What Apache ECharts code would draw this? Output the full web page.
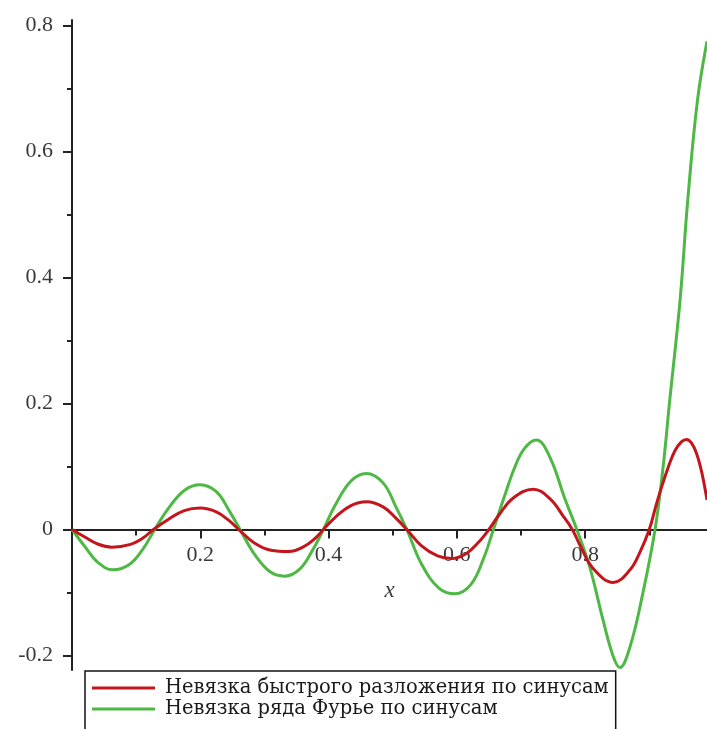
<!DOCTYPE html>
<html>
<head>
<meta charset="utf-8">
<script src="https://cdn.jsdelivr.net/npm/echarts@6/dist/echarts.min.js"></script>
<style>
  html, body { margin: 0; padding: 0; background: #ffffff; }
  #chart { width: 707px; height: 729px; }
</style>
</head>
<body>
<div id="chart"></div>
<script>
// Residuals of two sine expansions on [0, 1]
const seriesNames = [
  'Невязка быстрого разложения по синусам',
  'Невязка ряда Фурье по синусам'
];

// Fast sine expansion residual
const fastX = [0, 0.02, 0.04, 0.062, 0.09, 0.11, 0.127, 0.15, 0.175, 0.2, 0.225, 0.245, 0.26,
  0.285, 0.31, 0.338, 0.36, 0.378, 0.392, 0.41, 0.435, 0.459, 0.485, 0.505, 0.522,
  0.545, 0.57, 0.592, 0.615, 0.635, 0.65, 0.667, 0.688, 0.719, 0.745, 0.766, 0.78,
  0.792, 0.8125, 0.844, 0.87, 0.885, 0.9, 0.911, 0.92, 0.93, 0.94, 0.95, 0.958, 0.966,
  0.974, 0.982, 0.99];
const fastY = [0, -0.012, -0.023, -0.028, -0.024, -0.014, 0, 0.016, 0.030, 0.034, 0.028, 0.014, 0,
  -0.022, -0.033, -0.035, -0.028, -0.015, 0, 0.019, 0.038, 0.044, 0.036, 0.018, 0,
  -0.026, -0.042, -0.046, -0.038, -0.019, 0, 0.025, 0.050, 0.064, 0.049, 0.021, 0,
  -0.025, -0.062, -0.084, -0.064, -0.037, 0, 0.040, 0.070, 0.100, 0.125, 0.139, 0.143, 0.137,
  0.120, 0.090, 0.047];

// Fourier sine series residual
const fourierX = [0, 0.02, 0.04, 0.064, 0.09, 0.11, 0.129, 0.15, 0.175, 0.2, 0.225, 0.245, 0.262,
  0.285, 0.31, 0.332, 0.355, 0.375, 0.392, 0.41, 0.435, 0.459, 0.485, 0.505, 0.522,
  0.545, 0.572, 0.597, 0.622, 0.642, 0.657, 0.674, 0.69, 0.705, 0.724, 0.745, 0.768, 0.787,
  0.807, 0.828, 0.844, 0.854, 0.87, 0.89, 0.909, 0.921, 0.932, 0.948, 0.96, 0.975, 0.99];
const fourierY = [0, -0.027, -0.052, -0.064, -0.055, -0.032, 0, 0.033, 0.062, 0.071, 0.060, 0.030, 0,
  -0.040, -0.068, -0.074, -0.063, -0.033, 0, 0.038, 0.077, 0.089, 0.074, 0.036, 0,
  -0.055, -0.093, -0.102, -0.087, -0.045, 0, 0.052, 0.098, 0.128, 0.142, 0.115, 0.050, 0,
  -0.059, -0.144, -0.202, -0.219, -0.186, -0.101, 0, 0.094, 0.206, 0.364, 0.523, 0.680, 0.775];

// Axis ticks
const xMajorTicks = [0.2, 0.4, 0.6, 0.8];
const xMinorTicks = [0.1, 0.3, 0.5, 0.7, 0.9];
const yMajorTicks = [-0.2, 0, 0.2, 0.4, 0.6, 0.8];
const yMinorTicks = [-0.1, 0.1, 0.3, 0.5, 0.7];

const xRange = [0, 0.99];
const yRange = [-0.223, 0.8087];

const zip = (xs, ys) => xs.map((x, i) => [x, ys[i]]);

const serif = 'Liberation Serif';
const legendFont = 'DejaVu Serif';
const axisColor = '#222';
const labelColor = '#3a3a3a';

// plot box and the height at which y = 0 falls inside it
const plotLeft = 72, plotTop = 20, plotWidth = 635, plotHeight = 650;
const zeroOffset = Math.round(plotHeight * yRange[1] / (yRange[1] - yRange[0]) * 10) / 10;

const chart = echarts.init(document.getElementById('chart'), null, { renderer: 'canvas' });

chart.setOption({
  backgroundColor: '#ffffff',
  animation: false,
  grid: [
    // data area
    { left: plotLeft, top: plotTop, width: plotWidth, height: plotHeight, outerBoundsMode: 'none', containLabel: false },
    // horizontal axis band whose bottom edge sits at y = 0
    { left: plotLeft, top: plotTop, width: plotWidth, height: zeroOffset, outerBoundsMode: 'none', containLabel: false }
  ],
  xAxis: [
    { type: 'value', gridIndex: 0, min: xRange[0], max: xRange[1], show: false },
    {
      type: 'value', gridIndex: 1, min: xRange[0], max: xRange[1], position: 'bottom',
      name: 'x', nameLocation: 'middle', nameGap: 50,
      nameTextStyle: { fontFamily: serif, fontStyle: 'italic', fontSize: 23, color: labelColor },
      axisLine: { onZero: false, lineStyle: { color: axisColor, width: 2 } },
      axisTick: { show: true, customValues: xMajorTicks, length: 9, lineStyle: { color: axisColor, width: 2 } },
      axisLabel: { customValues: xMajorTicks, margin: 15, fontFamily: serif, fontSize: 22, color: labelColor },
      splitLine: { show: false }
    },
    {
      type: 'value', gridIndex: 1, min: xRange[0], max: xRange[1], position: 'bottom',
      axisLine: { show: false, onZero: false },
      axisTick: { show: true, customValues: xMinorTicks, length: 6, lineStyle: { color: axisColor, width: 2 } },
      axisLabel: { show: false },
      splitLine: { show: false }
    }
  ],
  yAxis: [
    {
      type: 'value', gridIndex: 0, min: yRange[0], max: yRange[1], position: 'left',
      axisLine: { show: true, onZero: false, lineStyle: { color: axisColor, width: 2 } },
      axisTick: { show: true, customValues: yMajorTicks, length: 9, lineStyle: { color: axisColor, width: 2 } },
      axisLabel: {
        customValues: yMajorTicks, margin: 19, fontFamily: serif, fontSize: 22, color: labelColor,
        formatter: v => (Math.abs(v) < 1e-9 ? '0' : String(+v.toFixed(1)))
      },
      splitLine: { show: false }
    },
    {
      type: 'value', gridIndex: 0, min: yRange[0], max: yRange[1], position: 'left',
      axisLine: { show: false, onZero: false },
      axisTick: { show: true, customValues: yMinorTicks, length: 5, lineStyle: { color: axisColor, width: 2 } },
      axisLabel: { show: false },
      splitLine: { show: false }
    },
    { type: 'value', gridIndex: 1, min: 0, max: yRange[1], show: false }
  ],
  legend: {
    orient: 'vertical', left: 85, top: 671, height: 200,
    padding: [7, 7, 12, 7], itemGap: 1,
    itemWidth: 63, itemHeight: 3, icon: 'rect',
    borderColor: '#111', borderWidth: 1.5, backgroundColor: '#ffffff',
    textStyle: { fontFamily: legendFont, fontSize: 19.5, color: '#1a1a1a', padding: [0, 0, 0, 5] },
    data: seriesNames
  },
  series: [
    {
      name: seriesNames[0], type: 'line', xAxisIndex: 0, yAxisIndex: 0,
      data: zip(fastX, fastY), smooth: 0.4, showSymbol: false, symbol: 'none',
      lineStyle: { color: '#c3161c', width: 3 }, itemStyle: { color: '#c3161c' }, z: 3
    },
    {
      name: seriesNames[1], type: 'line', xAxisIndex: 0, yAxisIndex: 0,
      data: zip(fourierX, fourierY), smooth: 0.4, showSymbol: false, symbol: 'none',
      lineStyle: { color: '#4db843', width: 3 }, itemStyle: { color: '#4db843' }, z: 2
    }
  ]
});
</script>
</body>
</html>
